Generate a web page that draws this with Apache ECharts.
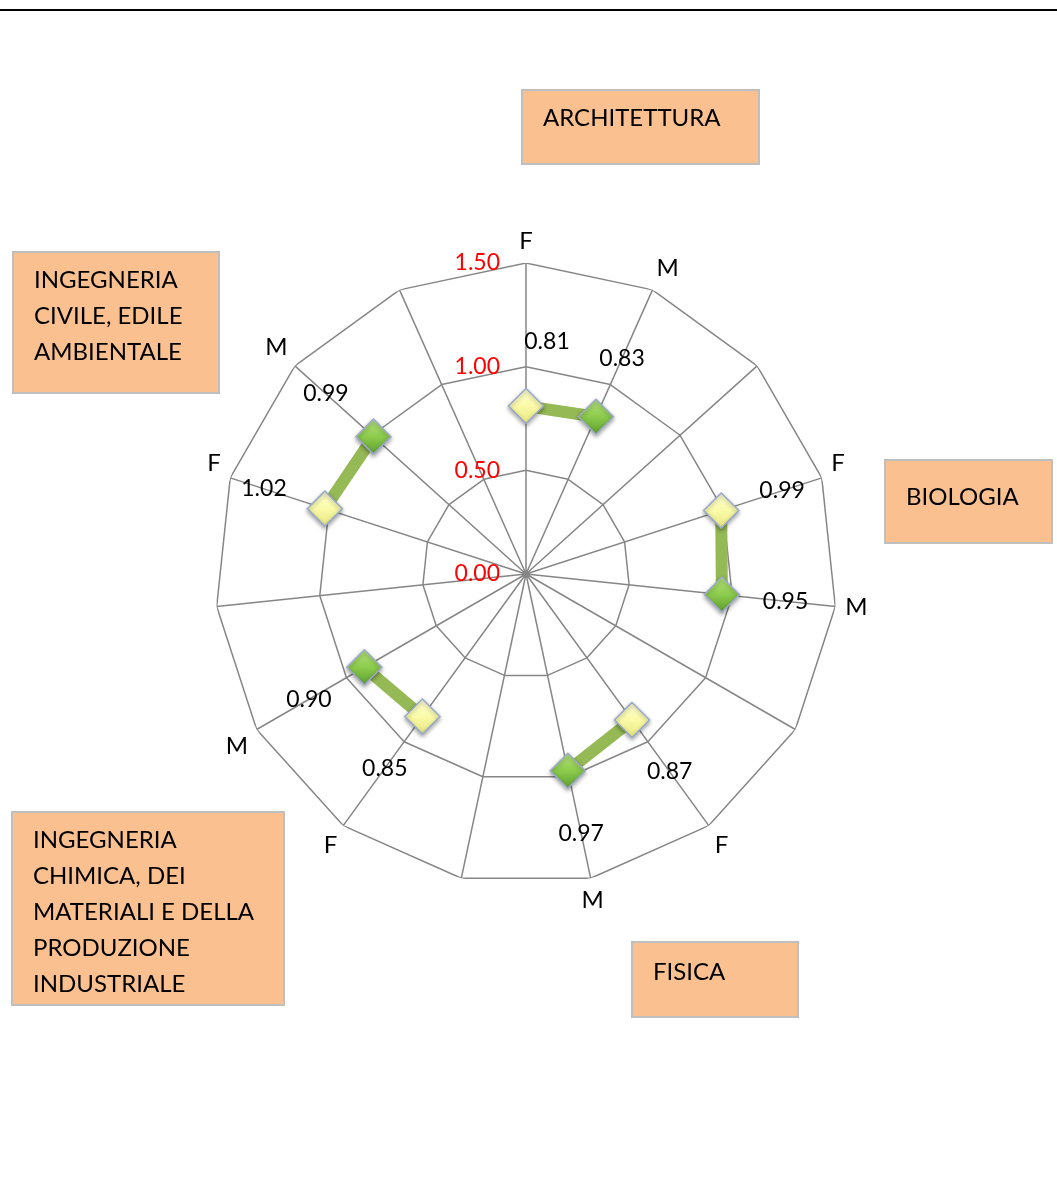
<!DOCTYPE html>
<html>
<head>
<meta charset="utf-8">
<script src="https://cdn.jsdelivr.net/npm/echarts@6/dist/echarts.min.js"></script>
<style>
  html, body { margin: 0; padding: 0; background: #fff; }
  #chart { width: 1057px; height: 1200px; }
</style>
</head>
<body>
<div id="chart"></div>
<script>
// spokes, clockwise from the top: F, M and an empty spoke for each department
const categories = ['F', 'M', '', 'F', 'M', '', 'F', 'M', '', 'F', 'M', '', 'F', 'M', '']
const departments = ['ARCHITETTURA', 'BIOLOGIA', 'FISICA', 'INGEGNERIA CHIMICA', 'INGEGNERIA CIVILE']
const femaleValues = [0.81, 0.99, 0.87, 0.85, 1.02]
const maleValues = [0.83, 0.95, 0.97, 0.90, 0.99]
const ringTicks = [0.5, 1.0, 1.5]

const font = 'Lato, "Liberation Sans", sans-serif'
const gridColor = '#868686'

const chart = echarts.init(document.getElementById('chart'))

// label sits further out along the spoke
const labelOffset = (k) => {
  const a = (90 - 24 * k) * Math.PI / 180
  let dx = 64 * Math.cos(a)
  const dy = -64 * Math.sin(a)
  if (k === 0) dx += 21 // keep the top label off the spoke
  return [dx, dy]
}

const yellowFill = new echarts.graphic.LinearGradient(0, 0, 0, 1, [
  { offset: 0, color: '#FFFFD6' },
  { offset: 0.5, color: '#FAFAA8' },
  { offset: 1, color: '#E6E67E' },
])
const greenFill = new echarts.graphic.LinearGradient(0, 0, 0, 1, [
  { offset: 0, color: '#B8E57E' },
  { offset: 0.5, color: '#8CCB4C' },
  { offset: 1, color: '#5E9E2E' },
])

const point = (value, k, fill) => ({
  value: [value, k],
  itemStyle: { color: fill, borderColor: '#9AAAC8', borderWidth: 1.5, shadowColor: 'rgba(0,0,0,0.35)', shadowBlur: 4, shadowOffsetY: 2 },
  label: { offset: labelOffset(k) },
})

// polygon rings of the grid
const ringSeries = ringTicks.map((t) => ({
  type: 'line',
  coordinateSystem: 'polar',
  silent: true,
  symbol: 'none',
  lineStyle: { color: gridColor, width: 1.5 },
  data: categories.map((c, k) => [t, k]).concat([[t, categories.length]]),
  z: 1,
}))

const deptSeries = departments.map((name, d) => ({
  name: name,
  type: 'line',
  coordinateSystem: 'polar',
  symbol: 'diamond',
  symbolSize: 35,
  lineStyle: { color: '#95B954', width: 12 },
  label: {
    show: true,
    position: 'inside',
    color: '#000',
    fontFamily: font,
    fontSize: 23,
    formatter: (p) => p.value[0].toFixed(2),
  },
  data: [point(femaleValues[d], 3 * d, yellowFill), point(maleValues[d], 3 * d + 1, greenFill)],
  z: 3,
}))

const box = (x, y, w, h, lines, textTop) => ({
  type: 'group',
  children: [
    { type: 'rect', shape: { x: x, y: y, width: w, height: h }, style: { fill: '#FAC090', stroke: '#BFBFBF', lineWidth: 2 } },
    {
      type: 'text',
      x: x + 21,
      y: textTop,
      style: { text: lines.join('\n'), font: '24px ' + font, fill: '#000', lineHeight: 36, verticalAlign: 'top' },
    },
  ],
})

const option = {
  backgroundColor: '#fff',
  animation: false,
  polar: { center: [526, 574], radius: 311 },
  angleAxis: {
    type: 'value',
    min: 0,
    max: categories.length,
    interval: 1,
    startAngle: 90,
    clockwise: true,
    axisLine: { show: false },
    axisTick: { show: false },
    splitLine: { show: true, lineStyle: { color: gridColor, width: 1.5 } },
    axisLabel: {
      margin: 10,
      color: '#000',
      fontFamily: font,
      fontSize: 24,
      formatter: (v) => categories[v] || '',
    },
  },
  radiusAxis: {
    min: 0,
    max: 1.5,
    interval: 0.5,
    axisLine: { show: false },
    axisTick: { show: false },
    splitLine: { show: false },
    axisLabel: {
      margin: 26,
      color: '#FF0000',
      fontFamily: font,
      fontSize: 23,
      formatter: (v) => v.toFixed(2),
    },
    z: 5,
  },
  graphic: [
    { type: 'rect', shape: { x: 0, y: 9, width: 1057, height: 2 }, style: { fill: '#000' } },
    box(522, 90, 237, 74, ['ARCHITETTURA'], 100),
    box(13, 252, 206, 141, ['INGEGNERIA', 'CIVILE, EDILE', 'AMBIENTALE'], 262),
    box(885, 460, 167, 83, ['BIOLOGIA'], 479),
    box(12, 812, 272, 193, ['INGEGNERIA', 'CHIMICA, DEI', 'MATERIALI E DELLA', 'PRODUZIONE', 'INDUSTRIALE'], 822),
    box(632, 942, 166, 75, ['FISICA'], 954),
  ],
  series: ringSeries.concat(deptSeries),
}

chart.setOption(option)
</script>
</body>
</html>
